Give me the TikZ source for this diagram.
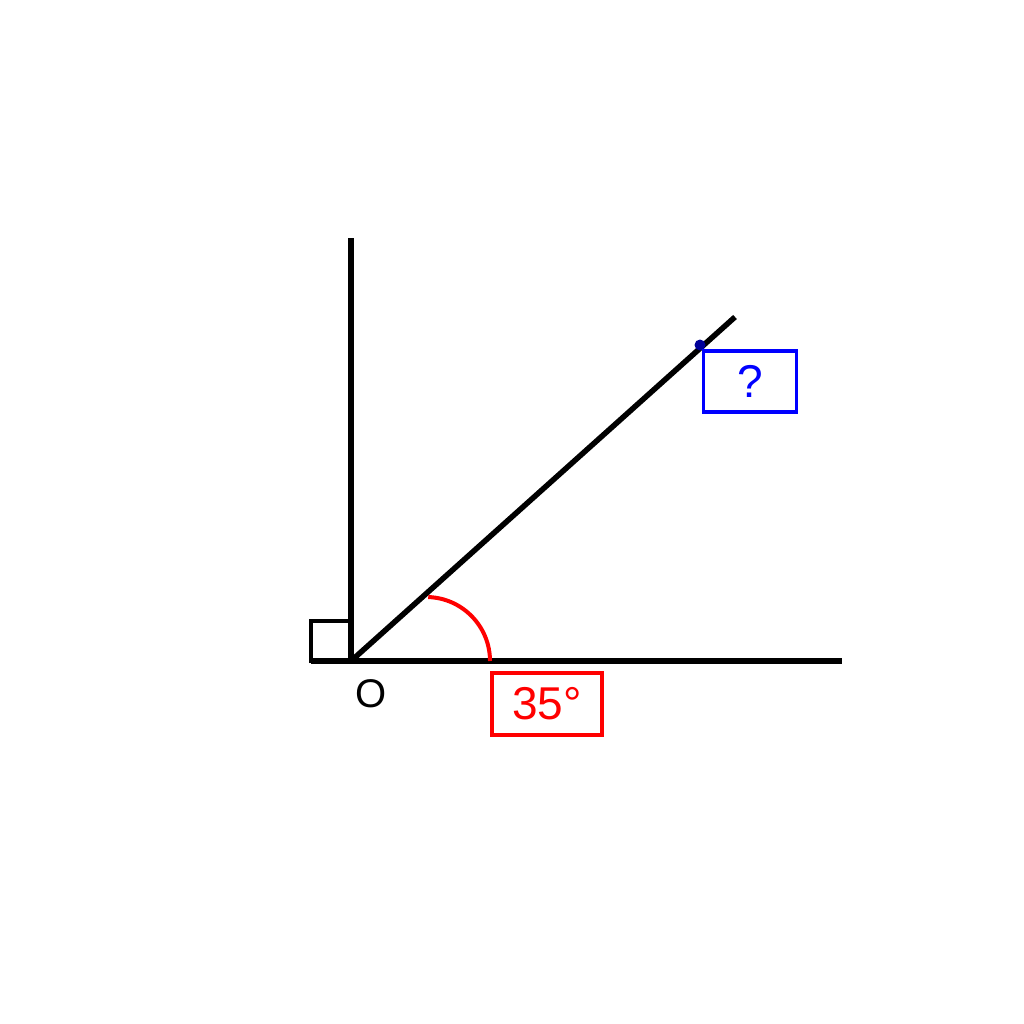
\documentclass[tikz,border=0pt]{standalone}
\usepackage{fontspec}
\setmainfont{Liberation Sans}
\begin{document}
\begin{tikzpicture}[x=1pt,y=-1pt,
  blk/.style={line width=5.5pt,black},
  redbox/.style={draw=red,line width=3.5pt,text=red,minimum width=110pt,minimum height=62pt,inner sep=0pt,font=\fontsize{46}{50}\selectfont},
  bluebox/.style={draw=blue,line width=3.5pt,text=blue,minimum width=93pt,minimum height=61pt,inner sep=0pt,font=\fontsize{46}{50}\selectfont}]
\useasboundingbox (0,0) rectangle (1024,1024);
\fill[white] (0,0) rectangle (1024,1024);
\coordinate (O) at (351,661);
\coordinate (top) at (351,238);
\coordinate (right) at (842,661);
\coordinate (diag) at (735,317);
\coordinate (sqL) at (311,661);
\draw[blk] (sqL) -- (right);
\draw[blk] (O) -- (top);
\draw[blk] (O) -- (diag);
\draw[line width=4.5pt] (311,663) -- (311,621) -- (353,621);
\draw[red,line width=4pt] (490,661) arc[start angle=0,end angle=-88,radius=64];
\fill[blue!60!black] (700,345) circle (5.5);
\node[bluebox] (q) at (750,381.5) {?};
\node[redbox] (ang) at (547,704) {35°};
\node[font=\fontsize{40}{44}\selectfont] (Olab) at (371,694) {O};
\end{tikzpicture}
\end{document}
